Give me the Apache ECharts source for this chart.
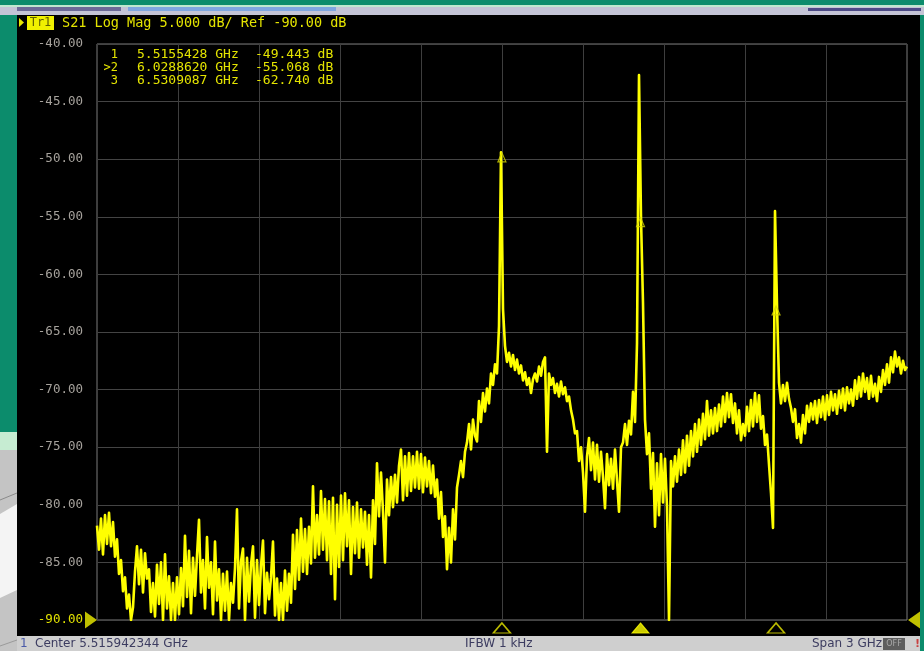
<!DOCTYPE html>
<html>
<head>
<meta charset="utf-8">
<title>S21 Log Mag</title>
<script src="https://cdn.jsdelivr.net/npm/echarts@6/dist/echarts.min.js"></script>
<style>
  html, body { margin: 0; padding: 0; background: #000; }
  #chart { width: 924px; height: 651px; }
</style>
</head>
<body>
<div id="chart"></div>
<script>
// Sweep settings (center 5.515942344 GHz, span 3 GHz)
const centerGHz = 5.515942344;
const spanGHz = 3;
const startGHz = centerGHz - spanGHz / 2;
const stopGHz = centerGHz + spanGHz / 2;

// Trace 1, S21 log magnitude (dB), one value per sweep point, evenly spaced from start to stop
const s21dB = [
  -81.8, -83.9, -81.2, -84.3, -80.9, -83.4, -80.7, -83.6, -81.5, -84.5,
  -83.0, -86.0, -84.8, -87.5, -86.3, -89.0, -87.8, -90.0, -88.9, -85.8,
  -83.6, -86.9, -83.9, -87.6, -84.2, -86.4, -85.6, -89.3, -86.8, -89.7,
  -85.2, -88.6, -85.0, -90.0, -84.3, -89.0, -86.2, -90.0, -86.8, -90.0,
  -86.3, -89.5, -85.5, -88.8, -82.7, -88.0, -84.0, -89.4, -84.6, -87.9,
  -84.4, -81.3, -87.6, -84.8, -89.0, -82.8, -87.2, -85.0, -89.5, -83.2,
  -88.3, -85.6, -90.0, -86.0, -89.2, -85.8, -90.0, -86.8, -88.5, -85.5,
  -80.4, -89.0, -84.9, -83.8, -90.0, -84.6, -88.4, -85.2, -83.6, -89.8,
  -84.8, -88.7, -85.3, -83.1, -89.4, -85.9, -88.2, -86.3, -83.2, -89.6,
  -86.4, -90.0, -86.8, -90.0, -85.7, -89.2, -86.0, -88.5, -82.6, -87.3,
  -82.2, -86.5, -81.2, -85.8, -82.1, -86.0, -81.9, -85.1, -78.4, -84.6,
  -80.9, -84.3, -78.8, -83.9, -79.5, -84.8, -79.7, -86.0, -79.4, -88.2,
  -80.0, -85.4, -79.2, -84.8, -79.0, -83.6, -79.6, -86.0, -80.2, -84.2,
  -79.8, -84.6, -80.4, -83.7, -80.6, -85.2, -80.9, -86.3, -79.6, -83.4,
  -76.4, -81.0, -77.2, -80.6, -85.0, -77.8, -80.9, -77.6, -80.2, -77.4,
  -79.8, -76.6, -75.2, -79.6, -75.8, -79.2, -75.5, -78.8, -75.8, -78.5,
  -75.4, -78.6, -75.6, -78.9, -75.9, -78.4, -76.2, -79.0, -76.6, -79.3,
  -77.8, -81.2, -78.9, -82.8, -81.0, -85.6, -82.0, -85.0, -80.4, -83.0,
  -78.5, -77.4, -76.2, -77.6, -75.4, -74.6, -73.0, -75.2, -72.6, -74.0,
  -74.5, -71.0, -72.8, -70.3, -71.9, -69.9, -71.2, -68.6, -69.6, -67.8,
  -68.6, -64.5, -49.4, -63.0, -66.2, -67.6, -66.8, -68.0, -67.0, -68.3,
  -67.4, -68.6, -67.9, -69.2, -68.5, -69.6, -69.0, -70.3, -69.1, -68.6,
  -69.3, -68.0, -68.8, -67.6, -67.2, -75.4, -68.6, -69.6, -69.0, -70.3,
  -69.5, -70.6, -69.3, -70.4, -69.8, -71.0, -70.6, -71.8, -72.6, -73.8,
  -73.6, -76.2, -75.0, -77.2, -80.6, -75.8, -74.2, -77.0, -74.6, -77.8,
  -74.8, -78.0, -75.4, -77.6, -80.3, -75.6, -78.3, -76.0, -78.6, -75.2,
  -77.9, -80.6, -75.0, -74.6, -73.0, -74.8, -72.7, -73.9, -70.2, -72.8,
  -66.0, -42.7, -55.1, -62.5, -72.6, -75.6, -73.8, -78.6, -75.5, -81.9,
  -76.4, -80.9, -75.6, -79.8, -76.0, -80.2, -90.0, -76.2, -78.4, -75.8,
  -78.0, -75.2, -77.4, -74.4, -77.2, -74.0, -76.6, -73.6, -75.8, -73.0,
  -75.4, -72.6, -74.8, -72.1, -74.3, -71.0, -74.0, -71.8, -73.8, -71.6,
  -73.6, -71.3, -73.2, -70.6, -72.8, -70.3, -72.4, -70.4, -72.9, -71.2,
  -73.8, -71.8, -74.4, -73.0, -74.0, -71.5, -73.6, -70.9, -73.2, -70.3,
  -72.8, -70.5, -73.4, -72.3, -74.8, -73.9, -76.5, -79.0, -82.0, -54.5,
  -62.7, -69.4, -71.2, -69.6, -71.0, -69.4, -70.8, -71.6, -72.8, -71.7,
  -74.2, -73.0, -74.6, -72.2, -73.8, -71.4, -72.8, -71.2, -72.6, -71.0,
  -72.9, -70.9, -72.4, -70.6, -72.6, -70.5, -72.2, -70.2, -71.8, -70.4,
  -72.1, -70.1, -71.6, -69.9, -71.8, -69.8, -71.2, -70.0, -71.4, -69.2,
  -70.8, -68.9, -70.6, -68.6, -70.2, -69.0, -70.8, -68.8, -70.6, -69.5,
  -71.0, -68.9, -70.2, -68.3, -69.6, -67.8, -69.4, -67.2, -68.5, -66.7,
  -68.0, -67.2, -68.6, -67.5, -68.3, -68.0
];

// Markers
const markerNames = ['1', '2', '3'];
const markerFreqGHz = [5.5155428, 6.0288620, 6.5309087];
const markerDb = [-49.443, -55.068, -62.740];
const activeMarker = 1;

// Scale: 5 dB/div, reference level -90 dB at the bottom line
const refDb = -90;
const scaleDb = 5;
const topDb = -40;
const xDivisions = 10;

const traceColor = '#ffff00';
const textYellow = '#e4e400';
const monoFont = 'DejaVu Sans Mono';

const n = s21dB.length;
const tracePoints = s21dB.map((v, i) => [startGHz + (i * spanGHz) / (n - 1), v]);

const chart = echarts.init(document.getElementById('chart'), null, { renderer: 'canvas' });

function fmtGHz(f) { return f.toFixed(7) + ' GHz'; }
function fmtDb(v) { return v.toFixed(3) + ' dB'; }

// Marker readout lines
const tableRows = markerNames.map((name, i) => ({ name, f: fmtGHz(markerFreqGHz[i]), v: fmtDb(markerDb[i]), active: i === activeMarker }));

const graphics = [
  // window chrome behind the measurement display
  { type: 'rect', shape: { x: 0, y: 0, width: 924, height: 651 }, style: { fill: '#0c8c6c' }, z: -20, silent: true },
  { type: 'rect', shape: { x: 0, y: 432, width: 17, height: 18 }, style: { fill: '#c6ecd2' }, z: -19, silent: true },
  { type: 'rect', shape: { x: 0, y: 450, width: 17, height: 201 }, style: { fill: '#c4c4c4' }, z: -19, silent: true },
  { type: 'polygon', shape: { points: [[0, 514], [17, 504], [17, 590], [0, 598]] }, style: { fill: '#f4f4f4' }, z: -18, silent: true },
  { type: 'line', shape: { x1: 0, y1: 500, x2: 17, y2: 493 }, style: { stroke: '#8a8a8a', lineWidth: 1 }, z: -18, silent: true },
  { type: 'line', shape: { x1: 0, y1: 646, x2: 17, y2: 640 }, style: { stroke: '#9a9a9a', lineWidth: 1 }, z: -18, silent: true },
  { type: 'rect', shape: { x: 0, y: 5, width: 924, height: 10 }, style: { fill: '#c4c4d6' }, z: -19, silent: true },
  { type: 'rect', shape: { x: 0, y: 5, width: 924, height: 2 }, style: { fill: '#bfe8cf' }, z: -18, silent: true },
  { type: 'rect', shape: { x: 17, y: 7, width: 104, height: 4 }, style: { fill: '#6c6a98' }, z: -18, silent: true },
  { type: 'rect', shape: { x: 128, y: 7, width: 208, height: 4 }, style: { fill: '#7fa6e0' }, z: -18, silent: true },
  { type: 'rect', shape: { x: 808, y: 8, width: 113, height: 3 }, style: { fill: '#4c4a86' }, z: -18, silent: true },
  { type: 'rect', shape: { x: 17, y: 15, width: 903, height: 621 }, style: { fill: '#000000' }, z: -17, silent: true },
  // status bar
  { type: 'rect', shape: { x: 17, y: 636, width: 903, height: 15 }, style: { fill: '#cfcfcf' }, z: -16, silent: true },
  { type: 'text', x: 20, y: 644, style: { text: '1', fill: '#4a5aa8', font: '12px "DejaVu Sans"', verticalAlign: 'middle' }, z: 5 },
  { type: 'text', x: 35, y: 644, style: { text: 'Center ' + centerGHz.toFixed(9) + ' GHz', fill: '#3c3c60', font: '12px "DejaVu Sans"', verticalAlign: 'middle' }, z: 5 },
  { type: 'text', x: 465, y: 644, style: { text: 'IFBW 1 kHz', fill: '#3c3c60', font: '12px "DejaVu Sans"', verticalAlign: 'middle' }, z: 5 },
  { type: 'text', x: 812, y: 644, style: { text: 'Span ' + spanGHz + ' GHz', fill: '#3c3c60', font: '12px "DejaVu Sans"', verticalAlign: 'middle' }, z: 5 },
  { type: 'rect', shape: { x: 883, y: 638, width: 22, height: 12 }, style: { fill: '#5e5e5e' }, z: 5 },
  { type: 'text', x: 894, y: 644, style: { text: 'OFF', fill: '#a8a8a8', font: '8px "DejaVu Sans"', align: 'center', verticalAlign: 'middle' }, z: 6 },
  { type: 'text', x: 915, y: 644, style: { text: '!', fill: '#c84040', font: 'bold 11px "DejaVu Sans"', verticalAlign: 'middle' }, z: 5 },
  // trace title line
  { type: 'polygon', shape: { points: [[19, 18], [24, 22.5], [19, 27]] }, style: { fill: '#e8e800' }, z: 5 },
  { type: 'rect', shape: { x: 27, y: 16, width: 27, height: 14 }, style: { fill: '#f0f000' }, z: 5 },
  { type: 'text', x: 40.5, y: 23, style: { text: 'Tr1', fill: '#606000', font: '12px ' + monoFont, align: 'center', verticalAlign: 'middle' }, z: 6 },
  { type: 'text', x: 62, y: 23, style: { text: 'S21 Log Mag ' + scaleDb.toFixed(3) + ' dB/ Ref ' + refDb.toFixed(2) + ' dB', fill: textYellow, font: '13.5px ' + monoFont, verticalAlign: 'middle' }, z: 5 }
];

tableRows.forEach((r, i) => {
  const y = 55 + i * 13;
  graphics.push(
    { type: 'text', x: 118, y, style: { text: (r.active ? '>' : '') + r.name, fill: textYellow, font: '12px ' + monoFont, align: 'right', verticalAlign: 'middle' }, z: 5 },
    { type: 'text', x: 137, y, style: { text: r.f, fill: textYellow, font: '13px ' + monoFont, verticalAlign: 'middle' }, z: 5 },
    { type: 'text', x: 255, y, style: { text: r.v, fill: textYellow, font: '13px ' + monoFont, verticalAlign: 'middle' }, z: 5 }
  );
});

const option = {
  backgroundColor: '#0c8c6c',
  animation: false,
  graphic: { elements: graphics },
  grid: {
    left: 97, right: 17, top: 44, bottom: 31,
    show: true, borderColor: '#7a7a7a', borderWidth: 1, backgroundColor: 'transparent',
    containLabel: false
  },
  xAxis: {
    type: 'value',
    min: startGHz, max: stopGHz, interval: spanGHz / xDivisions,
    axisLine: { show: false }, axisTick: { show: false }, axisLabel: { show: false },
    splitLine: { show: true, lineStyle: { color: '#3e3e3e', width: 1 } }
  },
  yAxis: {
    type: 'value',
    min: refDb, max: topDb, interval: scaleDb,
    axisLine: { show: false }, axisTick: { show: false },
    axisLabel: {
      margin: 14,
      fontFamily: monoFont, fontSize: 12.5,
      color: (v) => (Number(v) === refDb ? '#e0e000' : '#a6a29c'),
      formatter: (v) => v.toFixed(2)
    },
    splitLine: { show: true, lineStyle: { color: '#444444', width: 1 } }
  },
  series: [
    {
      type: 'line', name: 'Tr1', data: tracePoints,
      showSymbol: false, symbol: 'none',
      lineStyle: { color: traceColor, width: 2.6, join: 'round' },
      z: 3, clip: true
    },
    {
      // marker symbols on the trace, tip at the marker reading
      type: 'scatter', name: 'markers',
      data: markerFreqGHz.map((f, i) => [f, markerDb[i]]),
      symbol: 'triangle', symbolSize: [8, 9], symbolOffset: [0, 4.5],
      itemStyle: { color: 'transparent', borderColor: '#d8d800', borderWidth: 1.2 },
      z: 4, clip: false
    },
    {
      // marker position indicators under the graticule
      type: 'scatter', name: 'marker stimulus',
      data: markerFreqGHz.map((f, i) => ({
        value: [f, refDb],
        itemStyle: i === activeMarker
          ? { color: traceColor, borderColor: traceColor, borderWidth: 1 }
          : { color: 'rgba(0,0,0,0)', borderColor: '#e8e800', borderWidth: 1.5 }
      })),
      symbol: 'triangle', symbolSize: [17, 10], symbolOffset: [0, 8],
      z: 4, clip: false
    },
    {
      // reference level pointers at both ends
      type: 'scatter', name: 'reference',
      data: [
        { value: [startGHz, refDb], symbol: 'path://M0,0 L10,7 L0,14 Z', symbolOffset: [-6, 0] },
        { value: [stopGHz, refDb], symbol: 'path://M10,0 L0,7 L10,14 Z', symbolOffset: [7, 0] }
      ],
      symbolSize: [12, 17],
      itemStyle: { color: '#f0f000' },
      z: 4, clip: false
    }
  ]
};

chart.setOption(option);
</script>
</body>
</html>
